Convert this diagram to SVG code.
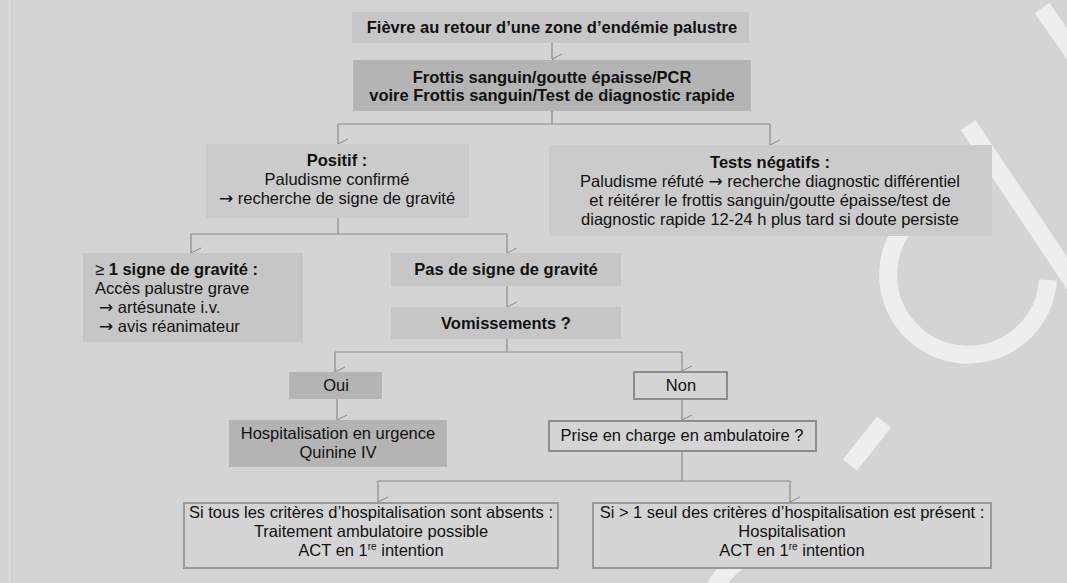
<svg xmlns="http://www.w3.org/2000/svg" width="1067" height="583" viewBox="0 0 1067 583">
<defs>
<marker id="arr" markerWidth="12" markerHeight="12" viewBox="0 0 12 12" refX="6" refY="11" orient="auto-start-reverse" markerUnits="userSpaceOnUse">
<path d="M1,1 L6,11 L11,1" fill="none" stroke="#8a8a8a" stroke-width="1"/>
</marker>
</defs>
<style>
text{font-family:"Liberation Sans",Arial,sans-serif;font-size:16.5px;fill:#111}
.a{font-family:"DejaVu Sans",sans-serif;font-size:17px}
.b{font-weight:bold}
.c{text-anchor:middle}
.f1{fill:#c6c6c6}
.f2{fill:#b4b4b4}
.f3{fill:#cbcbcb}
.o{fill:#d4d4d4;stroke:#8c8c8c;stroke-width:2}
.o2{fill:#d4d4d4;stroke:#9a9a9a;stroke-width:2}
.ln{fill:none;stroke:#8a8a8a;stroke-width:1.2}
.wm{fill:none;stroke:#ffffff;stroke-opacity:0.6;stroke-width:18}
</style>
<rect x="0" y="0" width="1067" height="583" fill="#d4d4d4"/>
<line x1="9.5" y1="0" x2="9.5" y2="583" stroke="#dedede" stroke-width="1"/>
<g id="watermark">
<path class="wm" d="M1042,8 L1075,55"/>
<path class="wm" d="M968,125 L1075,285"/>
<path class="wm" d="M975,195 A80,80 0 1,0 1048,280"/>
<path class="wm" d="M850,465 L884,422"/>
<path class="wm" d="M714,590 A70,70 0 0,1 758,552"/>
</g>
<g id="connectors">
<path class="ln" d="M552,43 V59" marker-end="url(#arr)"/>
<path class="ln" d="M552,111 V124 M338,124 H770"/>
<path class="ln" d="M338,124 V144" marker-end="url(#arr)"/>
<path class="ln" d="M770,124 V145" marker-end="url(#arr)"/>
<path class="ln" d="M338,218 V234 M191,234 H507"/>
<path class="ln" d="M191,234 V253" marker-end="url(#arr)"/>
<path class="ln" d="M507,234 V253" marker-end="url(#arr)"/>
<path class="ln" d="M507,286 V307" marker-end="url(#arr)"/>
<path class="ln" d="M507,339 V352 M335,352 H682"/>
<path class="ln" d="M335,352 V372" marker-end="url(#arr)"/>
<path class="ln" d="M682,352 V371" marker-end="url(#arr)"/>
<path class="ln" d="M337,399 V420" marker-end="url(#arr)"/>
<path class="ln" d="M682,399 V420" marker-end="url(#arr)"/>
<path class="ln" d="M682,451 V481 M378,481 H790"/>
<path class="ln" d="M378,481 V502" marker-end="url(#arr)"/>
<path class="ln" d="M790,481 V502" marker-end="url(#arr)"/>
</g>
<g id="n1">
<rect class="f1" x="352" y="12" width="397" height="31"/>
<text class="b c" x="552" y="33">Fièvre au retour d’une zone d’endémie palustre</text>
</g>
<g id="n2">
<rect class="f2" x="353" y="60" width="398" height="51"/>
<text class="b c" x="552" y="83">Frottis sanguin/goutte épaisse/PCR</text>
<text class="b c" x="552" y="101">voire Frottis sanguin/Test de diagnostic rapide</text>
</g>
<g id="n3">
<rect class="f3" x="206" y="144" width="263" height="74"/>
<text class="b c" x="337" y="166">Positif :</text>
<text class="c" x="337" y="185">Paludisme confirmé</text>
<text class="c" x="337" y="204"><tspan class="a">→</tspan> recherche de signe de gravité</text>
</g>
<g id="n4">
<rect class="f3" x="549" y="145" width="443" height="91"/>
<text class="b c" x="770" y="168">Tests négatifs :</text>
<text class="c" x="770" y="187">Paludisme réfuté <tspan class="a">→</tspan> recherche diagnostic différentiel</text>
<text class="c" x="770" y="206">et réitérer le frottis sanguin/goutte épaisse/test de</text>
<text class="c" x="770" y="225">diagnostic rapide 12-24 h plus tard si doute persiste</text>
</g>
<g id="n5">
<rect class="f1" x="83" y="253" width="220" height="89"/>
<text x="95" y="275">≥ <tspan class="b">1 signe de gravité :</tspan></text>
<text x="95" y="294">Accès palustre grave</text>
<text x="99" y="313"><tspan class="a">→</tspan> artésunate i.v.</text>
<text x="99" y="332"><tspan class="a">→</tspan> avis réanimateur</text>
</g>
<g id="n6">
<rect class="f1" x="391" y="253" width="230" height="33"/>
<text class="b c" x="506" y="275">Pas de signe de gravité</text>
</g>
<g id="n7">
<rect class="f1" x="391" y="307" width="230" height="32"/>
<text class="b c" x="506" y="329">Vomissements ?</text>
</g>
<g id="n8">
<rect class="f2" x="289" y="372" width="93" height="27"/>
<text class="c" x="336" y="391">Oui</text>
</g>
<g id="n9">
<rect class="o" x="634" y="372" width="93" height="27"/>
<text class="c" x="681" y="391">Non</text>
</g>
<g id="n10">
<rect class="f2" x="229" y="420" width="218" height="47"/>
<text class="c" x="338" y="439">Hospitalisation en urgence</text>
<text class="c" x="338" y="458">Quinine IV</text>
</g>
<g id="n11">
<rect class="o" x="549" y="421" width="267" height="30"/>
<text class="c" x="682" y="441">Prise en charge en ambulatoire ?</text>
</g>
<g id="n12">
<rect class="o2" x="184" y="503" width="374" height="65"/>
<text class="c" x="371" y="518">Si tous les critères d’hospitalisation sont absents :</text>
<text class="c" x="371" y="537">Traitement ambulatoire possible</text>
<text class="c" x="371" y="556">ACT en 1<tspan font-size="10" dy="-6">re</tspan><tspan dy="6"> intention</tspan></text>
</g>
<g id="n13">
<rect class="o2" x="593" y="503" width="398" height="65"/>
<text class="c" x="792" y="518">Si &gt; 1 seul des critères d’hospitalisation est présent :</text>
<text class="c" x="792" y="537">Hospitalisation</text>
<text class="c" x="792" y="556">ACT en 1<tspan font-size="10" dy="-6">re</tspan><tspan dy="6"> intention</tspan></text>
</g>
</svg>
